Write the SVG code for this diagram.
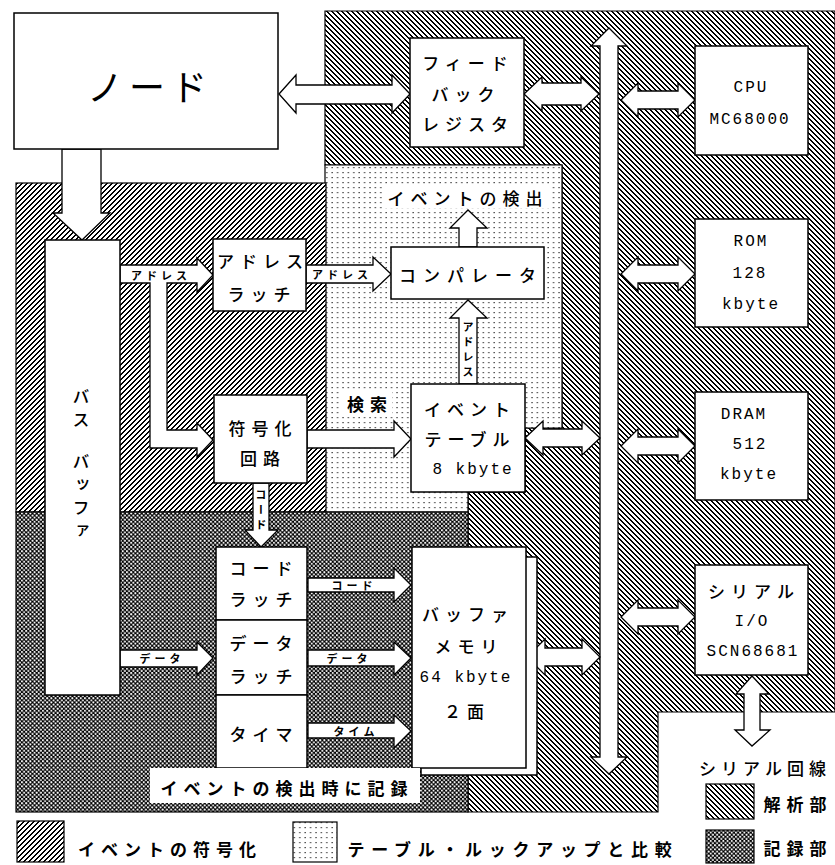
<svg xmlns="http://www.w3.org/2000/svg" width="835" height="865" viewBox="0 0 835 865">
<defs>
<pattern id="hatchA" patternUnits="userSpaceOnUse" width="5" height="5">
<rect width="5" height="5" fill="#fff"/>
<path d="M0,0h2v1h-2z M1,1h2v1h-2z M2,2h2v1h-2z M3,3h2v1h-2z M4,4h1v1h-1z M0,4h1v1h-1z" fill="#000" shape-rendering="crispEdges"/>
</pattern>
<pattern id="hatchE" patternUnits="userSpaceOnUse" width="5" height="5">
<rect width="5" height="5" fill="#fff"/>
<path d="M4,0h1v1h-1z M0,0h1v1h-1z M3,1h2v1h-2z M2,2h2v1h-2z M1,3h2v1h-2z M0,4h2v1h-2z" fill="#000" shape-rendering="crispEdges"/>
</pattern>
<pattern id="cross" patternUnits="userSpaceOnUse" width="4.2" height="4.2">
<rect width="4.2" height="4.2" fill="#000"/>
<circle cx="1" cy="1" r="1.05" fill="#fff"/>
<circle cx="3.1" cy="3.1" r="1.05" fill="#fff"/>
</pattern>
<pattern id="dots" patternUnits="userSpaceOnUse" width="5.4" height="5">
<rect width="5.4" height="5" fill="#fff"/>
<rect x="2.2" y="2" width="1.2" height="1.2" fill="#222"/>
</pattern>
</defs>
<style>
.jp{font-family:"Noto Sans CJK JP","Noto Sans",sans-serif;fill:#000}
.box{fill:#fff;stroke:#000;stroke-width:1.5}
.arr{fill:#fff;stroke:#000;stroke-width:1.3;stroke-linejoin:miter}
.reg{stroke:#000;stroke-width:1.2}
.t17{font-size:17px;letter-spacing:6px;font-weight:500}
.lat{font-family:"Liberation Mono","DejaVu Sans Mono",monospace;font-size:16px;letter-spacing:2px;fill:#000}
.sm{font-size:11px;font-weight:bold;letter-spacing:4px}
.vt{writing-mode:vertical-rl}
text{dominant-baseline:central;text-anchor:middle}
</style>
<rect width="835" height="865" fill="#fff"/>

<g id="regions">
<polygon id="region-analysis" class="reg" fill="url(#hatchA)" points="325,11 835,11 835,712 658,712 658,812 468,812 468,492 525,492 525,428 562,428 562,165 325,165"/>
<polygon id="region-lookup" class="reg" fill="url(#dots)" points="325,165 562,165 562,428 525,428 525,492 468,492 468,512 325,512"/>
<rect id="region-encoding" class="reg" fill="url(#hatchE)" x="16" y="183" width="310" height="329"/>
<rect id="region-recording" class="reg" fill="url(#cross)" x="16" y="512" width="452" height="300"/>
</g>

<g id="connectors">
<polygon class="arr" points="62,149 101,149 101,213 110,213 82,240 53,213 62,213 62,149"/>
<polygon class="arr" points="279,94 296,75 296,85 392,85 392,75 410,94 392,113 392,104 296,104 296,113"/>
<polygon class="arr" points="524,94 542,77 542,83 581,83 581,77 599,94 581,111 581,105 542,105 542,111"/>
<polygon class="arr" points="609,28 627,46 618,46 618,757 627,757 609,774 591,757 600,757 600,46 591,46"/>
<polygon class="arr" points="621,100 638,83 638,91 678,91 678,83 695,100 678,117 678,109 638,109 638,117"/>
<polygon class="arr" points="621,274 638,257 638,265 678,265 678,257 695,274 678,291 678,283 638,283 638,291"/>
<polygon class="arr" points="621,446 638,429 638,437 678,437 678,429 695,446 678,463 678,455 638,455 638,463"/>
<polygon class="arr" points="621,617 638,600 638,608 678,608 678,600 695,617 678,634 678,626 638,626 638,634"/>
<polygon class="arr" points="752,676 769,694 760,694 760,730 770,730 752,746 735,730 744,730 744,694 736,694"/>
<polygon class="arr" points="120,265 197,265 197,258 213,275 197,292 197,283 167,283 167,430 197,430 197,423 213,440 197,457 197,448 150,448 150,283 120,283"/>
<polygon class="arr" points="306,265 373,265 373,257 391,274 373,291 373,283 306,283"/>
<polygon class="arr" points="307,430 394,430 394,421 411,439 394,457 394,448 307,448"/>
<polygon class="arr" points="459,247 459,228 450,228 468,210 487,228 477,228 477,247"/>
<polygon class="arr" points="459,384 459,318 450,318 468,300 487,318 477,318 477,384"/>
<polygon class="arr" points="525,438 543,421 543,429 582,429 582,421 600,438 582,455 582,447 543,447 543,455"/>
<polygon class="arr" points="527,657 545,639 545,648 582,648 582,639 600,657 582,675 582,666 545,666 545,675"/>
<polygon class="arr" points="253,483 253,530 245,530 261,547 278,530 269,530 269,483"/>
<polygon class="arr" points="120,650 197,650 197,642 213,658 197,675 197,667 120,667"/>
<polygon class="arr" points="308,578 394,578 394,568 411,585 394,602 394,592 308,592"/>
<polygon class="arr" points="308,650 394,650 394,642 411,658 394,675 394,666 308,666"/>
<polygon class="arr" points="308,723 394,723 394,715 411,731 394,748 394,738 308,738"/>
</g>

<g id="connector-labels" class="jp">
<text class="sm" x="161" y="275">アドレス</text>
<text class="sm" x="342" y="274">アドレス</text>
<text class="sm vt" x="468" y="351">アドレス</text>
<text class="sm vt" x="261" y="512">コード</text>
<text class="sm" x="354" y="585">コード</text>
<text class="sm" x="162" y="658">データ</text>
<text class="sm" x="349" y="658">データ</text>
<text class="sm" x="356" y="731">タイム</text>
<rect x="342" y="392" width="50" height="22" fill="#fff"/>
<text class="t17" x="370" y="403" style="font-weight:bold">検索</text>
<rect x="383" y="186" width="166" height="22" fill="#fff"/>
<text class="t17" x="468" y="197">イベントの検出</text>
</g>

<g id="node-node">
<rect class="box" x="14" y="13" width="264" height="136"/>
<text class="jp" x="150" y="85" style="font-size:36px;letter-spacing:6px">ノード</text>
</g>
<g id="node-feedback">
<rect class="box" x="410" y="38" width="114" height="109"/>
<text class="jp t17" x="468" y="62">フィード</text>
<text class="jp t17" x="466" y="93">バック</text>
<text class="jp t17" x="468" y="123">レジスタ</text>
</g>
<g id="node-cpu">
<rect class="box" x="695" y="46" width="113" height="109"/>
<text class="lat" x="751" y="88">CPU</text>
<text class="lat" x="750" y="120">MC68000</text>
</g>
<g id="node-rom">
<rect class="box" x="695" y="219" width="113" height="108"/>
<text class="lat" x="751" y="242">ROM</text>
<text class="lat" x="750" y="274">128</text>
<text class="lat" x="751" y="305">kbyte</text>
</g>
<g id="node-dram">
<rect class="box" x="695" y="392" width="113" height="108"/>
<text class="lat" x="744" y="415">DRAM</text>
<text class="lat" x="750" y="445">512</text>
<text class="lat" x="749" y="475">kbyte</text>
</g>
<g id="node-serial">
<rect class="box" x="695" y="565" width="113" height="110"/>
<text class="jp t17" x="754" y="590">シリアル</text>
<text class="lat" x="752" y="622">I/O</text>
<text class="lat" x="753" y="652">SCN68681</text>
</g>
<g id="node-busbuffer">
<rect class="box" x="45" y="240" width="75" height="455"/>
<text class="jp t17 vt" x="81" y="411">バス</text>
<text class="jp t17 vt" x="81" y="499">バッファ</text>
</g>
<g id="node-addrlatch">
<rect class="box" x="213" y="239" width="93" height="72"/>
<text class="jp t17" x="263" y="260">アドレス</text>
<text class="jp t17" x="262" y="293">ラッチ</text>
</g>
<g id="node-encoder">
<rect class="box" x="214" y="395" width="93" height="88"/>
<text class="jp t17" x="263" y="427">符号化</text>
<text class="jp t17" x="263" y="457">回路</text>
</g>
<g id="node-comparator">
<rect class="box" x="391" y="247" width="153" height="52"/>
<text class="jp t17" x="471" y="274" style="letter-spacing:7px">コンパレータ</text>
</g>
<g id="node-eventtable">
<rect class="box" x="411" y="384" width="114" height="108"/>
<text class="jp t17" x="470" y="408">イベント</text>
<text class="jp t17" x="470" y="438">テーブル</text>
<text class="lat" x="473" y="470">8 kbyte</text>
</g>
<g id="node-codelatch">
<rect class="box" x="216" y="547" width="91" height="73"/>
<text class="jp t17" x="264" y="567">コード</text>
<text class="jp t17" x="264" y="598">ラッチ</text>
</g>
<g id="node-datalatch">
<rect class="box" x="216" y="620" width="91" height="75"/>
<text class="jp t17" x="264" y="642">データ</text>
<text class="jp t17" x="264" y="675">ラッチ</text>
</g>
<g id="node-timer">
<rect class="box" x="216" y="695" width="91" height="73"/>
<text class="jp t17" x="264" y="733">タイマ</text>
</g>
<g id="node-buffermemory">
<rect class="box" x="421" y="557" width="116" height="218"/>
<rect class="box" x="412" y="547" width="114" height="221"/>
<text class="jp t17" x="468" y="613">バッファ</text>
<text class="jp t17" x="469" y="645">メモリ</text>
<text class="lat" x="466" y="678">64 kbyte</text>
<text class="jp t17" x="467" y="710">２面</text>
</g>
<g id="label-record">
<rect x="150" y="768" width="270" height="35" fill="#fff"/>
<text class="jp t17" x="287" y="787" style="font-weight:bold">イベントの検出時に記録</text>
</g>
<g id="label-serialline">
<text class="jp t17" x="765" y="767" style="letter-spacing:5px">シリアル回線</text>
</g>

<g id="legend">
<rect class="reg" x="706" y="784" width="48" height="35" fill="url(#hatchA)"/>
<text class="jp t17" x="798" y="803" style="font-weight:bold">解析部</text>
<rect class="reg" x="706" y="830" width="48" height="33" fill="url(#cross)"/>
<text class="jp t17" x="798" y="847" style="font-weight:bold">記録部</text>
<rect class="reg" x="17" y="821" width="47" height="41" fill="url(#hatchE)"/>
<text class="jp t17" x="170" y="848" style="font-weight:bold">イベントの符号化</text>
<rect class="reg" x="293" y="822" width="44" height="40" fill="url(#dots)"/>
<text class="jp t17" x="513" y="848" style="font-weight:bold;letter-spacing:6.7px">テーブル・ルックアップと比較</text>
</g>
</svg>
